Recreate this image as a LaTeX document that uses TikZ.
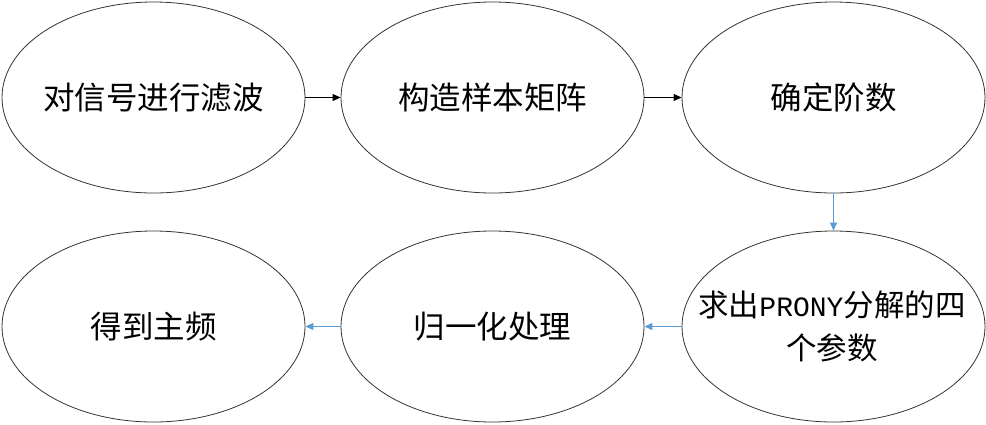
\documentclass[tikz,border=0pt]{standalone}
\usepackage{fontspec}
\setmainfont{Noto Sans CJK SC}
\newfontfamily\latinmono{Liberation Mono}
\usetikzlibrary{shapes.geometric,arrows.meta}
\definecolor{flowblue}{HTML}{5B9BD5}
\begin{document}
\begin{tikzpicture}[x=1pt,y=-1pt,
  stepell/.style={draw=black!80,line width=0.8pt,ellipse,minimum width=303pt,minimum height=191pt,inner sep=0pt},
  steptext/.style={align=center,inner sep=0pt,font=\fontsize{31.5}{43}\selectfont},
  blackarrow/.style={draw=black,line width=0.8pt,-{Triangle[length=8pt,width=7pt]}},
  bluearrow/.style={draw=flowblue,line width=1pt,-{Triangle[length=8pt,width=7pt]}}]
\useasboundingbox (0,0) rectangle (986,424);
\node[stepell] (e1) at (153.5,97.5) {};
\node[stepell] (e2) at (492.5,97.5) {};
\node[stepell] (e3) at (833.5,97.5) {};
\node[stepell] (e6) at (833.5,326.5) {};
\node[stepell] (e5) at (492.5,326.5) {};
\node[stepell] (e4) at (153.5,326.5) {};
\node[steptext] (t1) at (e1.center) {对信号进行滤波};
\node[steptext] (t2) at (e2.center) {构造样本矩阵};
\node[steptext] (t3) at (e3.center) {确定阶数};
\node[steptext,font=\fontsize{30.5}{43}\selectfont] (t6) at (832,326) {求出{\latinmono\fontsize{28}{43}\selectfont PRONY}分解的四\\个参数};
\node[steptext] (t5) at (e5.center) {归一化处理};
\node[steptext] (t4) at (e4.center) {得到主频};
\draw[blackarrow] (e1) -- (e2);
\draw[blackarrow] (e2) -- (e3);
\draw[bluearrow] (e3) -- (e6);
\draw[bluearrow] (e6) -- (e5);
\draw[bluearrow] (e5) -- (e4);
\end{tikzpicture}
\end{document}
